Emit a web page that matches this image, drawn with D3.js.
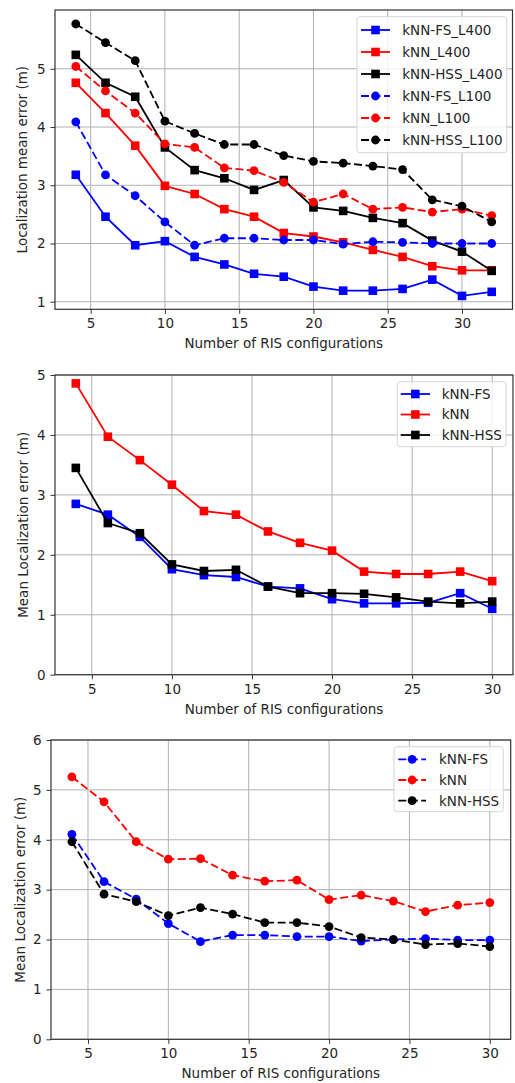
<!DOCTYPE html>
<html>
<head>
<meta charset="utf-8">
<script src="https://cdn.jsdelivr.net/npm/d3@7"></script>
<style>
  body { margin: 0; background: #fff; }
  svg { display: block; font-family: "DejaVu Sans", sans-serif; }
</style>
</head>
<body>
<svg id="chart" width="515" height="1083"></svg>
<script>
// x values (number of RIS configurations)
const xsTop = [4, 6, 8, 10, 12, 14, 16, 18, 20, 22, 24, 26, 28, 30, 32];
const xsBottom = [4, 6, 8, 10, 12, 14, 16, 18, 20, 22, 24, 26, 28, 30];

// Panel 1 series
const fsL400  = [3.18, 2.46, 1.97, 2.04, 1.77, 1.64, 1.48, 1.43, 1.26, 1.19, 1.19, 1.22, 1.38, 1.10, 1.17];
const knnL400 = [4.76, 4.24, 3.68, 2.99, 2.85, 2.59, 2.46, 2.18, 2.12, 2.02, 1.89, 1.77, 1.61, 1.54, 1.54];
const hssL400 = [5.24, 4.76, 4.52, 3.65, 3.26, 3.12, 2.92, 3.09, 2.62, 2.56, 2.44, 2.35, 2.05, 1.86, 1.53];
const fsL100  = [4.09, 3.18, 2.82, 2.37, 1.97, 2.09, 2.09, 2.06, 2.06, 1.99, 2.03, 2.02, 2.00, 2.00, 2.00];
const knnL100 = [5.04, 4.62, 4.24, 3.71, 3.65, 3.30, 3.25, 3.05, 2.71, 2.85, 2.59, 2.62, 2.54, 2.59, 2.48];
const hssL100 = [5.77, 5.45, 5.14, 4.10, 3.89, 3.70, 3.70, 3.51, 3.41, 3.38, 3.33, 3.27, 2.75, 2.64, 2.37];

// Panel 2 series
const fsMid  = [2.85, 2.67, 2.30, 1.76, 1.66, 1.63, 1.47, 1.44, 1.26, 1.19, 1.19, 1.20, 1.36, 1.10];
const knnMid = [4.86, 3.97, 3.58, 3.17, 2.73, 2.67, 2.39, 2.20, 2.07, 1.72, 1.68, 1.68, 1.72, 1.56];
const hssMid = [3.45, 2.53, 2.36, 1.84, 1.73, 1.75, 1.47, 1.36, 1.36, 1.35, 1.29, 1.22, 1.19, 1.22];

// Panel 3 series
const fsLow  = [4.11, 3.16, 2.81, 2.32, 1.96, 2.09, 2.09, 2.06, 2.06, 1.97, 2.00, 2.02, 1.99, 1.99];
const knnLow = [5.26, 4.76, 3.96, 3.61, 3.62, 3.29, 3.17, 3.19, 2.80, 2.89, 2.77, 2.56, 2.69, 2.74];
const hssLow = [3.96, 2.91, 2.76, 2.48, 2.64, 2.51, 2.34, 2.34, 2.26, 2.04, 2.00, 1.90, 1.92, 1.86];

// tick labels
const xTicks = [5, 10, 15, 20, 25, 30];
const yTicksTop = [1, 2, 3, 4, 5];
const yTicksMid = [0, 1, 2, 3, 4, 5];
const yTicksLow = [0, 1, 2, 3, 4, 5, 6];

const svg = d3.select("#chart");
const textColor = "#262626";
const fontSize = 13.5;

function drawPanel(cfg) {
  const g = svg.append("g");
  const x = d3.scaleLinear().domain(cfg.xDomain).range([cfg.left, cfg.right]);
  const y = d3.scaleLinear().domain(cfg.yDomain).range([cfg.bottom, cfg.top]);

  // grid
  g.append("g").selectAll("line").data(xTicks).join("line")
    .attr("x1", d => x(d)).attr("x2", d => x(d))
    .attr("y1", cfg.top).attr("y2", cfg.bottom)
    .attr("stroke", "#b0b0b0").attr("stroke-width", 1);
  g.append("g").selectAll("line").data(cfg.yTicks).join("line")
    .attr("x1", cfg.left).attr("x2", cfg.right)
    .attr("y1", d => y(d)).attr("y2", d => y(d))
    .attr("stroke", "#b0b0b0").attr("stroke-width", 1);

  // series
  const line = d3.line().x(d => x(d[0])).y(d => y(d[1]));
  cfg.series.forEach(s => {
    const pts = cfg.xs.map((xv, i) => [xv, s.values[i]]);
    g.append("path").datum(pts)
      .attr("d", line)
      .attr("fill", "none")
      .attr("stroke", s.color)
      .attr("stroke-width", 1.8)
      .attr("stroke-dasharray", s.dashed ? "8,3.5" : null);
    if (s.marker === "square") {
      g.append("g").selectAll("rect").data(pts).join("rect")
        .attr("x", d => x(d[0]) - 4.3).attr("y", d => y(d[1]) - 4.3)
        .attr("width", 8.6).attr("height", 8.6)
        .attr("fill", s.color);
    } else {
      g.append("g").selectAll("circle").data(pts).join("circle")
        .attr("cx", d => x(d[0])).attr("cy", d => y(d[1]))
        .attr("r", 4.4).attr("fill", s.color);
    }
  });

  // axes
  const xAxis = g.append("g")
    .attr("transform", `translate(0,${cfg.bottom})`)
    .call(d3.axisBottom(x).tickValues(xTicks).tickFormat(d3.format("d"))
      .tickSize(4.5).tickPadding(5).tickSizeOuter(0));
  const yAxis = g.append("g")
    .attr("transform", `translate(${cfg.left},0)`)
    .call(d3.axisLeft(y).tickValues(cfg.yTicks).tickFormat(d3.format("d"))
      .tickSize(4.5).tickPadding(5).tickSizeOuter(0));
  [xAxis, yAxis].forEach(a => {
    a.select(".domain").remove();
    a.selectAll("line").attr("stroke", "#333").attr("stroke-width", 1);
    a.selectAll("text").attr("fill", textColor)
      .attr("font-size", fontSize).attr("font-family", "DejaVu Sans, sans-serif");
  });

  // frame
  g.append("rect")
    .attr("x", cfg.left).attr("y", cfg.top)
    .attr("width", cfg.right - cfg.left).attr("height", cfg.bottom - cfg.top)
    .attr("fill", "none").attr("stroke", "#333").attr("stroke-width", 1.2);

  // labels
  g.append("text")
    .attr("x", (cfg.left + cfg.right) / 2)
    .attr("y", cfg.bottom + 39)
    .attr("text-anchor", "middle")
    .attr("font-size", fontSize).attr("fill", textColor)
    .text("Number of RIS configurations");
  g.append("text")
    .attr("transform", `translate(${cfg.yLabelX},${(cfg.top + cfg.bottom) / 2}) rotate(-90)`)
    .attr("text-anchor", "middle")
    .attr("font-size", fontSize).attr("fill", textColor)
    .text(cfg.yLabel);

  // legend
  const L = cfg.legend;
  const lg = g.append("g");
  lg.append("rect")
    .attr("x", L.x0).attr("y", L.y0)
    .attr("width", L.x1 - L.x0).attr("height", L.y1 - L.y0)
    .attr("rx", 3).attr("fill", "#fff").attr("fill-opacity", 0.8)
    .attr("stroke", "#d5d5d5").attr("stroke-width", 1);
  cfg.series.forEach((s, i) => {
    const ry = L.rowY + i * L.rowStep;
    lg.append("line")
      .attr("x1", L.hx0).attr("x2", L.hx1)
      .attr("y1", ry).attr("y2", ry)
      .attr("stroke", s.color).attr("stroke-width", 1.8)
      .attr("stroke-dasharray", s.dashed ? "8,3.5" : null);
    const mx = (L.hx0 + L.hx1) / 2;
    if (s.marker === "square") {
      lg.append("rect").attr("x", mx - 4.3).attr("y", ry - 4.3)
        .attr("width", 8.6).attr("height", 8.6).attr("fill", s.color);
    } else {
      lg.append("circle").attr("cx", mx).attr("cy", ry).attr("r", 4.4).attr("fill", s.color);
    }
    lg.append("text")
      .attr("x", L.tx).attr("y", ry).attr("dy", "0.36em")
      .attr("font-size", fontSize).attr("fill", textColor)
      .text(s.name);
  });
}

drawPanel({
  left: 55, right: 512.5, top: 10, bottom: 309.3,
  xDomain: [2.6, 33.4], yDomain: [0.87, 6.01],
  xs: xsTop, yTicks: yTicksTop,
  yLabel: "Localization mean error (m)", yLabelX: 27,
  series: [
    { name: "kNN-FS_L400", values: fsL400, color: "#0000ff", marker: "square", dashed: false },
    { name: "kNN_L400", values: knnL400, color: "#ff0000", marker: "square", dashed: false },
    { name: "kNN-HSS_L400", values: hssL400, color: "#000000", marker: "square", dashed: false },
    { name: "kNN-FS_L100", values: fsL100, color: "#0000ff", marker: "circle", dashed: true },
    { name: "kNN_L100", values: knnL100, color: "#ff0000", marker: "circle", dashed: true },
    { name: "kNN-HSS_L100", values: hssL100, color: "#000000", marker: "circle", dashed: true }
  ],
  legend: { x0: 357, x1: 506.7, y0: 16.7, y1: 152.7, rowY: 30, rowStep: 22, hx0: 361, hx1: 390, tx: 402.3 }
});

drawPanel({
  left: 55, right: 513, top: 375, bottom: 674.7,
  xDomain: [2.7, 31.3], yDomain: [0, 5],
  xs: xsBottom, yTicks: yTicksMid,
  yLabel: "Mean Localization error (m)", yLabelX: 27.5,
  series: [
    { name: "kNN-FS", values: fsMid, color: "#0000ff", marker: "square", dashed: false },
    { name: "kNN", values: knnMid, color: "#ff0000", marker: "square", dashed: false },
    { name: "kNN-HSS", values: hssMid, color: "#000000", marker: "square", dashed: false }
  ],
  legend: { x0: 397.3, x1: 506, y0: 381.7, y1: 446.7, rowY: 394, rowStep: 20.5, hx0: 400.7, hx1: 430, tx: 441.7 }
});

drawPanel({
  left: 51, right: 510.7, top: 740, bottom: 1039.3,
  xDomain: [2.7, 31.3], yDomain: [0, 6],
  xs: xsBottom, yTicks: yTicksLow,
  yLabel: "Mean Localization error (m)", yLabelX: 24.5,
  series: [
    { name: "kNN-FS", values: fsLow, color: "#0000ff", marker: "circle", dashed: true },
    { name: "kNN", values: knnLow, color: "#ff0000", marker: "circle", dashed: true },
    { name: "kNN-HSS", values: hssLow, color: "#000000", marker: "circle", dashed: true }
  ],
  legend: { x0: 394, x1: 503.3, y0: 746.7, y1: 811.7, rowY: 759.3, rowStep: 20.7, hx0: 398.3, hx1: 426, tx: 439 }
});
</script>
</body>
</html>
